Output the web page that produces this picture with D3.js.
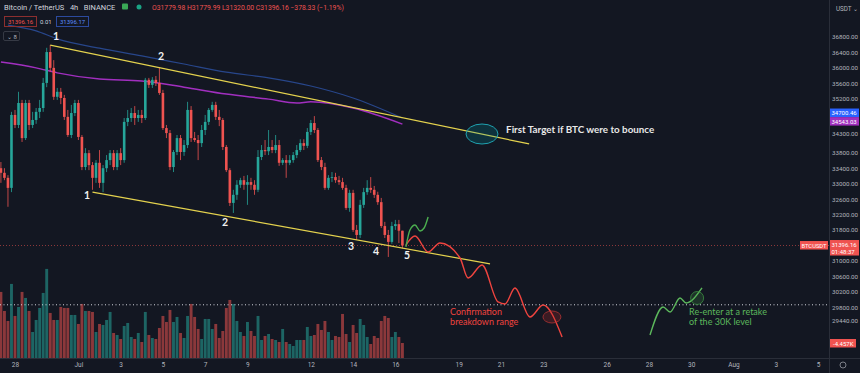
<!DOCTYPE html>
<html>
<head>
<meta charset="utf-8">
<script src="https://cdn.jsdelivr.net/npm/d3@7"></script>
<style>
body { margin: 0; background: #131722; overflow: hidden; }
svg { display: block; font-family: Roboto, "Noto Sans", sans-serif; }
</style>
</head>
<body>
<svg width="860" height="373"></svg>
<script>
// BTCUSDT 4h candles, [open, high, low, close], first bar Jun 27 08:00 UTC
var candles = [
  [33400,33560,33020,33280],[33280,33400,33090,33150],[33150,33220,32400,32890],[32890,34860,32780,34780],
  [34780,34910,34440,34520],[34520,35380,34440,35090],[35090,35170,34080,34180],[34180,35170,34130,35090],
  [35090,35170,34390,34520],[34520,34860,34440,34650],[34650,34960,34550,34860],[34860,35170,34700,34960],
  [34960,35740,34860,35610],[35610,36520,35500,36410],[36410,36590,35890,36000],[36000,36200,35170,35250],
  [35250,35480,35170,35380],[35380,35480,35060,35220],[35220,35300,34650,34730],[34730,34910,34210,34260],
  [34260,35040,34180,34830],[34830,35170,34750,35090],[35090,35170,34130,34210],[34210,34260,33350,33430],
  [33430,33920,33350,33790],[33790,33870,33350,33480],[33480,33560,32840,33150],[33150,33610,33020,33540],
  [33540,33870,32890,33020],[33020,33480,32780,33400],[33400,33740,33300,33610],[33610,33870,33480,33790],
  [33790,33870,33350,33430],[33430,33870,33350,33790],[33790,33920,33480,33610],[33610,34700,33540,34600],
  [34600,34910,34490,34700],[34700,34960,34600,34830],[34830,35010,34520,34700],[34700,34910,34600,34780],
  [34780,34910,34570,34700],[34700,35740,34650,35690],[35690,35740,35480,35560],[35560,35760,35480,35690],
  [35690,35790,35530,35610],[35610,36020,35300,35350],[35350,35430,34390,34440],[34440,34520,34180,34310],
  [34310,34390,33350,33430],[33430,33870,33300,33820],[33820,34260,33740,34180],[34180,34260,33610,33820],
  [33820,34130,33720,34000],[34000,35120,33920,34910],[34910,35010,34080,34180],[34180,34340,34080,34130],
  [34130,34260,33610,34050],[34050,34520,33950,34390],[34390,34780,34260,34600],[34600,34960,34520,34910],
  [34910,35120,34860,35040],[35040,35120,34650,34730],[34730,34910,34490,34650],[34650,34700,33870,33950],
  [33950,34000,33300,33350],[33350,33400,32420,32500],[32500,32840,32240,32710],[32710,33090,32580,32970],
  [32970,33150,32890,33090],[33090,33200,32840,32970],[32970,33220,32450,33040],[33040,33150,32840,32970],
  [32970,33090,32710,32840],[32840,33870,32780,33690],[33690,34000,33610,33870],[33870,34130,33740,33840],
  [33840,34390,33740,33950],[33950,34130,33790,33870],[33870,34260,33790,34000],[34000,34130,33460,33540],
  [33540,33660,33480,33610],[33610,33740,33150,33540],[33540,33740,33480,33610],[33610,33820,33540,33740],
  [33740,34000,33660,33870],[33870,34150,33820,34050],[34050,34150,33870,33980],[33980,34440,33920,34340],
  [34340,34650,34260,34570],[34570,34750,34310,34390],[34390,34440,33560,33610],[33610,33690,33350,33430],
  [33430,33540,32840,32890],[32890,33220,32840,33150],[33150,33300,33040,33170],[33170,33280,33020,33090],
  [33090,33200,32970,33040],[33040,33150,32840,32890],[32890,32970,32320,32370],[32370,32840,32270,32760],
  [32760,32840,31750,31800],[31800,31930,31540,31670],[31670,32580,31590,32450],[32450,32890,32370,32780],
  [32780,33090,32710,32890],[32890,33170,32760,32840],[32840,32940,32630,32710],[32710,32790,32450,32520],
  [32520,32630,31850,31900],[31900,32010,31590,31670],[31670,31800,31100,31490],[31490,32010,31440,31900],
  [31900,32060,31800,31950],[31950,32060,31460,31780],[31779.98,31779.99,31320,31396.16]
]
var volumes = [
  7370,5280,4180,8250,4730,5720,7370,6710,5280,2970,
  4290,5610,7260,9900,5060,4290,4290,5720,5610,5610,
  4840,4840,3850,6050,5280,5280,5170,2970,3850,3740,
  4290,5170,2860,2640,2200,3630,3960,2420,2200,2860,
  1870,5170,2640,2310,2200,3410,4730,4070,5390,4070,
  4620,2860,2310,4730,6050,4620,3300,2200,4400,4400,
  3300,3850,2310,3080,5610,6490,6050,4180,2970,2530,
  4070,3080,2530,4730,2090,2530,2750,2200,2090,1870,
  3300,1870,1650,1430,2090,2090,2090,3520,2530,2640,
  3850,3190,4180,2970,2090,2530,2420,4950,2750,1870,
  3740,2860,4400,3740,2420,1650,2530,2310,4180,4730,
  4510,2420,2970,2420,1760
]
var firstBar = Date.UTC(2021, 5, 27, 8)
var barMs = 4 * 3600 * 1000

// moving averages, read at some bars
var maBlueBars = [2, 10, 16, 28, 40, 52, 64, 76, 88, 100, 114]
var maBlueVals = [37110, 36960, 36750, 36510, 36310, 36100, 35890, 35740, 35530, 35220, 34700.46]
var maPurpleBars = [0, 10, 16, 28, 40, 52, 64, 76, 84, 88, 100, 114]
var maPurpleVals = [36150, 36000, 35870, 35710, 35660, 35500, 35320, 35190, 35090, 35120, 34960, 34543.03]

// drawings: days after Jun 28 00:00 UTC and price
var upperDays = [1.667, 24.33], upperPrices = [36590, 34030]
var lowerDays = [3.667, 22.48], lowerPrices = [32780, 30920]
var bounceDays = [18.50, 18.69, 18.93, 19.17, 19.36, 19.55]
var bouncePrices = [31358, 31799, 31928, 31773, 31850, 32136]
var dropDays = [18.50, 18.93, 19.55, 20.11, 21.06, 21.44, 22.10, 22.86, 23.19, 23.66, 24.37, 24.99, 25.89]
var dropPrices = [31410, 31643, 31228, 31462, 31073, 30555, 30892, 29933, 29881, 30295, 29544, 29855, 29026]
var reenterDays = [30.05, 30.67, 31.00, 31.47, 31.76, 32.51]
var reenterPrices = [29078, 29803, 29674, 30036, 29907, 30296]
var waveText = ['1', '2', '1', '2', '3', '4', '5']
var waveDays = [1.94, 6.91, 3.41, 9.94, 15.90, 17.08, 18.55]
var wavePrices = [36800, 36282, 32680, 31980, 31358, 31229, 31125]
var level30k = 29860
var lastPrice = 31396.16

var dateTicks = ['2021-06-28','2021-07-01','2021-07-03','2021-07-05','2021-07-07','2021-07-09','2021-07-12','2021-07-14','2021-07-16',
  '2021-07-19','2021-07-21','2021-07-23','2021-07-26','2021-07-28','2021-07-30','2021-08-01','2021-08-03','2021-08-05']
var dateLabels = ['28','Jul','3','5','7','9','12','14','16','19','21','23','26','28','30','Aug','3','5']
var priceTicks = [36800, 36400, 36000, 35600, 35200, 34300, 33800, 33400, 33000, 32600, 32200, 31800, 31000, 30600, 30200, 29800, 29440]

var up = '#26a69a', down = '#ef5350'
var svg = d3.select('svg')
svg.append('rect').attr('width', 860).attr('height', 373).attr('fill', '#131722')

var x = d3.scaleUtc().domain([Date.UTC(2021, 5, 28), Date.UTC(2021, 7, 5)]).range([15, 818])
var y = d3.scaleLinear().domain([36800, 29440]).range([37, 321])
var yVol = d3.scaleLinear().domain([0, 10000]).range([359, 268])
var base = Date.UTC(2021, 5, 28)
function xd(d) { return x(base + d * 864e5) }
function xb(i) { return x(firstBar + i * barMs) }

svg.append('defs').append('clipPath').attr('id', 'plot')
  .append('rect').attr('width', 829).attr('height', 358)
var plot = svg.append('g').attr('clip-path', 'url(#plot)')

// volume
plot.selectAll('.vol').data(volumes).join('rect')
  .attr('x', function(v, i) { return xb(i) - 1.45 })
  .attr('width', 2.9)
  .attr('y', function(v) { return yVol(v) })
  .attr('height', function(v) { return yVol(0) - yVol(v) })
  .attr('fill', function(v, i) { return candles[i][3] >= candles[i][0] ? up : down })
  .attr('opacity', 0.55)

// horizontal levels
plot.append('line').attr('x1', 0).attr('x2', 829).attr('y1', y(level30k)).attr('y2', y(level30k))
  .attr('stroke', '#d1d4dc').attr('stroke-width', 1).attr('stroke-dasharray', '1,2.5')
plot.append('line').attr('x1', 0).attr('x2', 829).attr('y1', y(lastPrice)).attr('y2', y(lastPrice))
  .attr('stroke', down).attr('stroke-width', 0.7).attr('stroke-dasharray', '1,2').attr('opacity', 0.8)

// moving averages
var maLine = d3.line().curve(d3.curveMonotoneX)
plot.append('path')
  .attr('d', maLine(maBlueBars.map(function(b, i) { return [xb(b), y(maBlueVals[i])] })))
  .attr('fill', 'none').attr('stroke', '#2c4f9e').attr('stroke-width', 1.2).attr('opacity', 0.85)
plot.append('path')
  .attr('d', maLine(maPurpleBars.map(function(b, i) { return [xb(b), y(maPurpleVals[i])] })))
  .attr('fill', 'none').attr('stroke', '#a12fbf').attr('stroke-width', 1.5)

// candles
var candle = plot.selectAll('.c').data(candles).join('g')
candle.append('line')
  .attr('x1', function(d, i) { return xb(i) }).attr('x2', function(d, i) { return xb(i) })
  .attr('y1', function(d) { return y(d[1]) }).attr('y2', function(d) { return y(d[2]) })
  .attr('stroke', function(d) { return d[3] >= d[0] ? up : down }).attr('stroke-width', 0.8)
candle.append('rect')
  .attr('x', function(d, i) { return xb(i) - 1.3 }).attr('width', 2.6)
  .attr('y', function(d) { return y(Math.max(d[0], d[3])) })
  .attr('height', function(d) { return Math.max(0.8, Math.abs(y(d[0]) - y(d[3]))) })
  .attr('fill', function(d) { return d[3] >= d[0] ? up : down })

// trend lines
var yellow = '#e4d24e'
plot.append('line').attr('x1', xd(upperDays[0])).attr('y1', y(upperPrices[0]))
  .attr('x2', xd(upperDays[1])).attr('y2', y(upperPrices[1])).attr('stroke', yellow).attr('stroke-width', 1.2)
plot.append('line').attr('x1', xd(lowerDays[0])).attr('y1', y(lowerPrices[0]))
  .attr('x2', xd(lowerDays[1])).attr('y2', y(lowerPrices[1])).attr('stroke', yellow).attr('stroke-width', 1.2)

// scenario paths
var pathLine = d3.line().curve(d3.curveMonotoneX)
function drawPath(days, prices, color) {
  plot.append('path')
    .attr('d', pathLine(days.map(function(d, i) { return [xd(d), y(prices[i])] })))
    .attr('fill', 'none').attr('stroke', color).attr('stroke-width', 1.4)
}
drawPath(dropDays, dropPrices, '#f0443f')
drawPath(bounceDays, bouncePrices, '#4caf50')
drawPath(reenterDays, reenterPrices, '#5cb85c')

plot.append('ellipse').attr('cx', xd(22.10)).attr('cy', y(34286)).attr('rx', 16).attr('ry', 10)
  .attr('fill', 'rgba(0,150,160,0.22)').attr('stroke', '#1fa2b0').attr('stroke-width', 1)
plot.append('ellipse').attr('cx', xd(25.41)).attr('cy', y(29544)).attr('rx', 9).attr('ry', 6)
  .attr('fill', 'rgba(180,40,40,0.25)').attr('stroke', '#b03434').attr('stroke-width', 0.8)
plot.append('circle').attr('cx', xd(32.28)).attr('cy', y(30036)).attr('r', 6.5)
  .attr('fill', 'rgba(70,160,70,0.2)').attr('stroke', '#3c8f42').attr('stroke-width', 0.8)

// wave numbers
plot.selectAll('.wave').data(waveText).join('text')
  .attr('x', function(d, i) { return xd(waveDays[i]) })
  .attr('y', function(d, i) { return y(wavePrices[i]) })
  .attr('text-anchor', 'middle').attr('dominant-baseline', 'middle')
  .attr('fill', '#f0f0f0').attr('font-family', 'Lato').attr('font-weight', 'bold').attr('font-size', 10.5)
  .text(function(d) { return d })

// notes
function note(txt, d, p, color, weight, size) {
  plot.append('text').attr('x', xd(d)).attr('y', y(p)).attr('fill', color)
    .attr('font-family', 'Lato').attr('font-weight', weight).attr('font-size', size).text(txt)
}
note('First Target if BTC were to bounce', 23.24, 34310, '#e8e8e8', 'bold', 9.8)
note('Confirmation', 20.59, 29590, '#f0443f', 'normal', 9)
note('breakdown range', 20.59, 29330, '#f0443f', 'normal', 9)
note('Re-enter at a retake', 31.90, 29600, '#5cb85c', 'normal', 9)
note('of the 30K level', 31.90, 29340, '#5cb85c', 'normal', 9)

// axes
svg.append('line').attr('x1', 829.5).attr('x2', 829.5).attr('y1', 0).attr('y2', 373).attr('stroke', '#2a2e39')
svg.append('line').attr('x1', 0).attr('x2', 860).attr('y1', 358.5).attr('y2', 358.5).attr('stroke', '#2a2e39')

var xAxis = svg.append('g').attr('transform', 'translate(0,359)')
  .call(d3.axisBottom(x).tickValues(dateTicks.map(function(d) { return new Date(d + 'T00:00:00Z') }))
    .tickFormat(function(d, i) { return dateLabels[i] }).tickSize(0).tickPadding(3))
xAxis.select('.domain').remove()
xAxis.selectAll('text').attr('fill', '#b2b5be').attr('font-size', 6.5).attr('font-family', 'Roboto')

var yAxis = svg.append('g').attr('transform', 'translate(829,0)')
  .call(d3.axisRight(y).tickValues(priceTicks).tickFormat(d3.format('.2f')).tickSize(0).tickPadding(3))
yAxis.select('.domain').remove()
yAxis.selectAll('text').attr('fill', '#b2b5be').attr('font-size', 6.2).attr('font-family', 'Roboto')

// price labels on the scale (shifted apart like the platform does)
function tag(lines, p, bg, shift) {
  var g = svg.append('g')
  var h = lines.length * 7 + 1.5
  var top = y(p) - 4.5 + shift
  g.append('rect').attr('x', 830).attr('y', top).attr('width', 29).attr('height', h).attr('fill', bg)
  lines.forEach(function(t, k) {
    g.append('text').attr('x', 831.5).attr('y', top + 6.5 + k * 7).attr('fill', '#fff')
      .attr('font-size', 6).attr('font-family', 'Roboto').text(t)
  })
}
tag(['34700.46'], 34700.46, '#2962ff', -5)
tag(['34543.03'], 34543.03, '#a12fbf', -2.5)
tag(['31396.16', '01:48:37'], lastPrice, '#ef5350', -1)
svg.append('rect').attr('x', 800).attr('y', y(lastPrice) - 4.5).attr('width', 28).attr('height', 8.5).attr('fill', '#ef5350')
svg.append('text').attr('x', 814).attr('y', y(lastPrice) + 2).attr('text-anchor', 'middle').attr('fill', '#fff')
  .attr('font-size', 5.8).attr('font-family', 'Roboto').text('BTCUSDT')
svg.append('rect').attr('x', 830).attr('y', 339).attr('width', 26).attr('height', 8.5).attr('fill', '#ef5350')
svg.append('text').attr('x', 833).attr('y', 345.5).attr('fill', '#fff').attr('font-size', 6).attr('font-family', 'Roboto').text('-4.457K')

svg.append('text').attr('x', 836).attr('y', 11).attr('fill', '#b2b5be').attr('font-size', 6.3).text('USDT \u2304')
svg.append('circle').attr('cx', 843).attr('cy', 365).attr('r', 3).attr('fill', 'none').attr('stroke', '#9598a1').attr('stroke-width', 0.8)

// legend
svg.append('text').attr('x', 4).attr('y', 10).attr('fill', '#d1d4dc').attr('font-size', 7.5)
  .attr('xml:space', 'preserve').text('Bitcoin / TetherUS   4h   BINANCE')
svg.append('rect').attr('x', 122).attr('y', 3.5).attr('width', 6).attr('height', 6).attr('fill', '#3aa856').attr('rx', 1)
svg.append('circle').attr('cx', 139).attr('cy', 7).attr('r', 2.5).attr('fill', '#1aa384')
svg.append('text').attr('x', 152).attr('y', 10).attr('fill', '#ef5350').attr('font-size', 6.8)
  .text('O31779.98 H31779.99 L31320.00 C31396.16 \u2212378.33 (\u22121.19%)')
svg.append('rect').attr('x', 4.5).attr('y', 16.5).attr('width', 32).attr('height', 10).attr('fill', 'none').attr('stroke', '#8c2f2f')
svg.append('text').attr('x', 8).attr('y', 24).attr('fill', '#ef5350').attr('font-size', 6).text('31396.16')
svg.append('text').attr('x', 40).attr('y', 24).attr('fill', '#d1d4dc').attr('font-size', 6).text('0.01')
svg.append('rect').attr('x', 56.5).attr('y', 16.5).attr('width', 32).attr('height', 10).attr('fill', 'none').attr('stroke', '#2c4a9e')
svg.append('text').attr('x', 60).attr('y', 24).attr('fill', '#5b8cff').attr('font-size', 6).text('31396.17')
svg.append('rect').attr('x', 3.5).attr('y', 31.5).attr('width', 16).attr('height', 9).attr('fill', 'none').attr('stroke', '#363a45').attr('rx', 1.5)
svg.append('text').attr('x', 7).attr('y', 38.5).attr('fill', '#b2b5be').attr('font-size', 6).text('\u2304 8')
</script>
</body>
</html>
